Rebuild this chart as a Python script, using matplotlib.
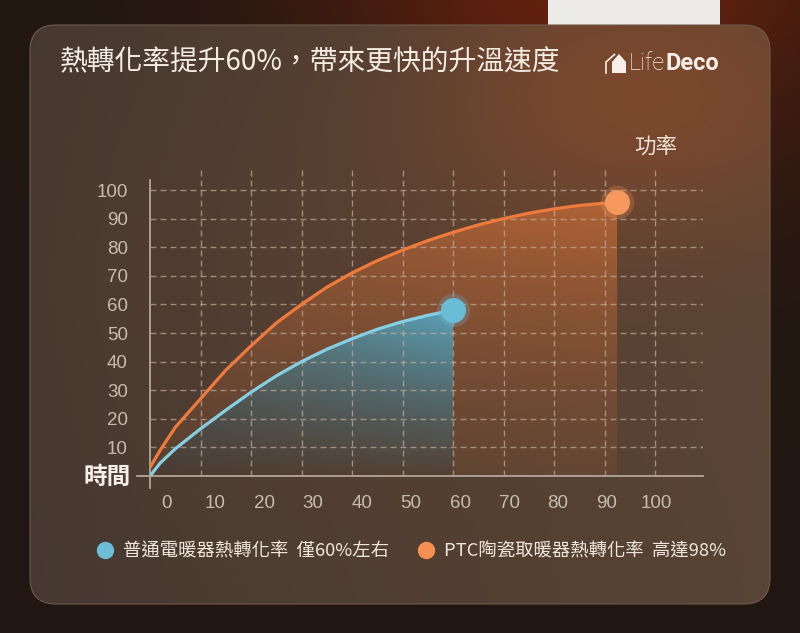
import numpy as np
import matplotlib.pyplot as plt
from matplotlib.patches import FancyBboxPatch, Polygon, Rectangle
from matplotlib.lines import Line2D

plt.rcParams['font.family'] = ['Noto Sans CJK TC', 'DejaVu Sans']

# ---- data ----
x_ticks = [0, 10, 20, 30, 40, 50, 60, 70, 80, 90, 100]
y_ticks = [10, 20, 30, 40, 50, 60, 70, 80, 90, 100]

# PTC ceramic heater (orange)
ptc_x = [0, 2, 5, 10, 15, 20, 25, 30, 35, 40, 45, 50, 55, 60, 65, 70, 75, 80, 85, 92.5]
ptc_y = [3, 9, 17, 27, 37, 45.5, 53.5, 60, 66, 71, 75.3, 79, 82.3, 85.2, 87.8, 90, 91.9, 93.4, 94.6, 95.8]

# ordinary electric heater (blue)
normal_x = [0, 2, 5, 10, 15, 20, 25, 30, 35, 40, 45, 50, 55, 60]
normal_y = [0, 4.5, 9.5, 16.5, 23, 29.3, 35, 40, 44.3, 48, 51.3, 54, 56.2, 58]

title = '熱轉化率提升60%，帶來更快的升溫速度'
legend_labels = ['普通電暖器熱轉化率  僅60%左右', 'PTC陶瓷取暖器熱轉化率  高達98%']
legend_colors = ['#6dbdd6', '#f58f52']

W, H = 800, 633
fig = plt.figure(figsize=(8, 6.33), dpi=100)

# ---- background (pixel coordinates) ----
bg = fig.add_axes([0, 0, 1, 1])
bg.set_xlim(0, W)
bg.set_ylim(H, 0)
bg.axis('off')

yy, xx = np.mgrid[0:H, 0:W].astype(float)


def blob(cx, cy, sx, sy):
    return np.exp(-(((xx - cx) / sx) ** 2 + ((yy - cy) / sy) ** 2))


def mix(a, b, t):
    a = np.asarray(a, dtype=float)
    b = np.asarray(b, dtype=float)
    return a * (1 - t[..., None]) + b * t[..., None]


outer = mix([0.13, 0.09, 0.07], [0.45, 0.14, 0.05], 0.9 * blob(600, -60, 280, 230))
bg.imshow(outer, extent=[0, W, H, 0], aspect='auto', zorder=0)
bg.add_patch(Rectangle((548, -5), 172, 35, fc='#eeeceb', ec='none', zorder=1))

# panel shading
panel = mix([0.27, 0.22, 0.19], [0.35, 0.27, 0.21], xx / W)
panel = mix(panel, [0.38, 0.26, 0.19], 0.45 * blob(430, 280, 320, 220))
panel = mix(panel, [0.52, 0.29, 0.17], 0.8 * blob(640, 95, 220, 140))
pimg = bg.imshow(panel, extent=[0, W, H, 0], aspect='auto', zorder=2)
panel_box = FancyBboxPatch((30, 25), 740, 579, boxstyle='round,pad=0,rounding_size=26',
                           fc='none', ec='#6e5a4c', lw=0.8, zorder=3)
bg.add_patch(panel_box)
pimg.set_clip_path(panel_box)

# title and logo
bg.text(60, 62, title, fontsize=20, color='#f4ebe3', va='center', ha='left', zorder=4)
bg.add_patch(Polygon([(612, 73), (612, 62), (619, 54), (626, 62), (626, 73)],
                     closed=True, fc='#f7efe8', ec='none', zorder=4))
bg.plot([606, 606, 614.5], [73, 62, 54.5], color='#f7efe8', lw=1.2, zorder=4)
life = bg.text(629, 64, 'Life', fontsize=17, family='Roboto', weight='light',
               color='#f7efe8', va='center', ha='left', zorder=4)
bg.annotate('Deco', xy=(1, 0.5), xycoords=life, fontsize=17, family='Roboto',
            weight='bold', color='#f7efe8', va='center', ha='left', zorder=4)

bg.text(656, 147, '功率', fontsize=15.5, color='#efe4da', ha='center', va='center', zorder=4)
bg.text(107, 477, '時間', fontsize=17, weight='bold', color='#f6efe8',
        ha='center', va='center', zorder=4)

# ---- chart ----
ax = fig.add_axes([150 / W, (H - 476) / H, 553 / W, 306 / H])
ax.patch.set_alpha(0)
for s in ax.spines.values():
    s.set_visible(False)

dash = (0, (4.3, 2.9))
grid_color = '#c2ad99'
ax.set_yticks(y_ticks)
ax.grid(axis='y', color=grid_color, alpha=0.7, lw=1, linestyle=dash)
ax.vlines(x_ticks[1:], 0, 107, colors=grid_color, alpha=0.7, lw=1, linestyles=dash)

ax.set_xticks([3.2 + 0.97 * v for v in x_ticks], labels=[str(v) for v in x_ticks])
ax.tick_params(axis='both', length=0, labelsize=13.5, labelcolor='#c7bbb0')
ax.tick_params(axis='y', pad=16)
ax.tick_params(axis='x', pad=14)
for lbl in ax.get_xticklabels() + ax.get_yticklabels():
    lbl.set_fontfamily('Liberation Sans')

# axis lines crossing at origin
ax.plot([-2.6, 109.5], [0, 0], color='#b3a699', lw=1.3, clip_on=False, zorder=3)
ax.plot([0, 0], [-4.2, 103.5], color='#b3a699', lw=1.3, clip_on=False, zorder=3)

# orange area: between orange curve and blue curve / axis
ox, oy = np.array(ptc_x), np.array(ptc_y)
bx, by = np.array(normal_x), np.array(normal_y)
verts = list(zip(ox, oy)) + [(ox[-1], 0), (bx[-1], 0)] + list(zip(bx[::-1], by[::-1]))
o_poly = Polygon(verts, closed=True, fc='none', ec='none')
ax.add_patch(o_poly)
gy, gx = np.mgrid[1:0:200j, 0:1:200j]
o_rgba = np.zeros((200, 200, 4))
o_rgba[..., :3] = mix([0.55, 0.33, 0.21], [0.80, 0.43, 0.22], gy)
o_rgba[..., 3] = (0.25 + 0.47 * gy) * (0.75 + 0.25 * gx)
oim = ax.imshow(o_rgba, extent=[0, ox[-1], 0, oy.max()], aspect='auto', zorder=1)
oim.set_clip_path(o_poly)

# blue area under blue curve
b_verts = list(zip(bx, by)) + [(bx[-1], 0), (0, 0)]
b_poly = Polygon(b_verts, closed=True, fc='none', ec='none')
ax.add_patch(b_poly)
b_rgba = np.zeros((200, 200, 4))
b_rgba[..., :3] = mix([0.28, 0.52, 0.60], [0.36, 0.72, 0.84], gy)
b_rgba[..., 3] = 0.82 * gy ** 0.8 * (0.45 + 0.55 * gx)
bim = ax.imshow(b_rgba, extent=[0, bx[-1], 0, by.max()], aspect='auto', zorder=1.5)
bim.set_clip_path(b_poly)
ax.set_xlim(0, 109.5)
ax.set_ylim(0, 107)

# curves and end markers
ax.plot(ptc_x, ptc_y, color='#ee7a3c', lw=2.3, solid_capstyle='round', zorder=5)
ax.plot(normal_x, normal_y, color='#86cfe2', lw=2.3, solid_capstyle='round', zorder=5)
ax.plot(ptc_x[-1], ptc_y[-1], 'o', ms=24, mfc='#f6985e', mec='none', alpha=0.25, clip_on=False, zorder=6)
ax.plot(ptc_x[-1], ptc_y[-1], 'o', ms=18, mfc='#f6985e', mec='none', clip_on=False, zorder=7)
ax.plot(normal_x[-1], normal_y[-1], 'o', ms=24, mfc='#6bbcd6', mec='none', alpha=0.25, clip_on=False, zorder=6)
ax.plot(normal_x[-1], normal_y[-1], 'o', ms=18, mfc='#6bbcd6', mec='none', clip_on=False, zorder=7)

# legend
handles = [Line2D([], [], marker='o', ls='none', ms=12.5, mfc=c, mec='none') for c in legend_colors]
fig.legend(handles, legend_labels, loc='center left', bbox_to_anchor=(95.4 / W, (H - 551) / H),
           ncol=2, frameon=False, fontsize=13.2, handlelength=1.0, handletextpad=0.48,
           columnspacing=1.53, borderpad=0, borderaxespad=0, labelcolor='#efe6dc')

fig.savefig('out.png', dpi=100)
